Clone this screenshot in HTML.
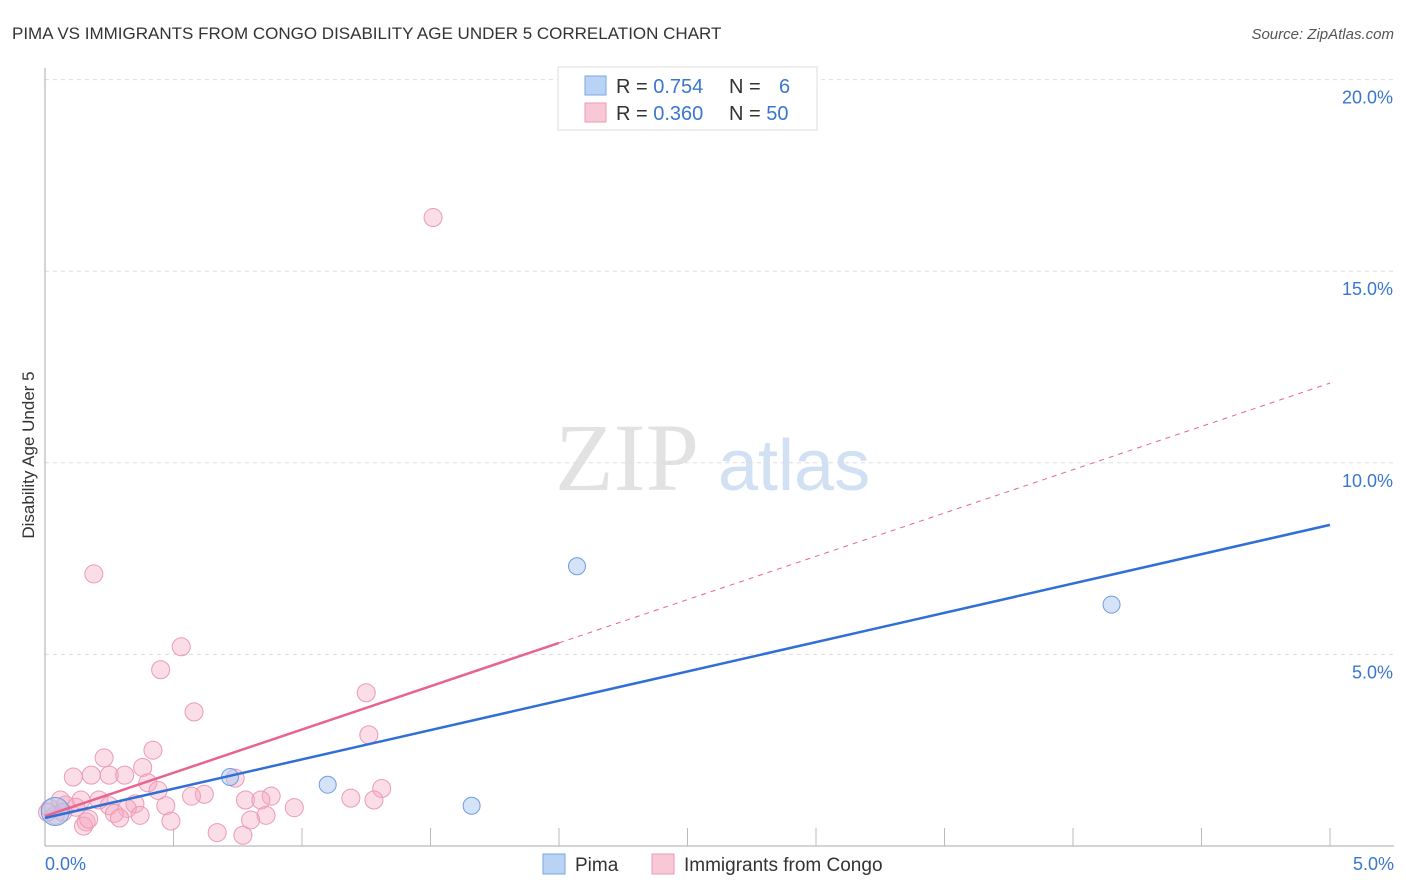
<!DOCTYPE html>
<html><head><meta charset="utf-8"><style>
body{margin:0;background:#fff;font-family:"Liberation Sans",sans-serif;}
#wrap{position:relative;width:1406px;height:892px;overflow:hidden;}
</style></head><body>
<div id="wrap">
<svg id="svg" width="1406" height="892" xmlns="http://www.w3.org/2000/svg">
<text x="12" y="39" font-size="17" fill="#333">PIMA VS IMMIGRANTS FROM CONGO DISABILITY AGE UNDER 5 CORRELATION CHART</text>
<text x="1394" y="39" font-size="15" fill="#555" font-style="italic" text-anchor="end">Source: ZipAtlas.com</text>
<text x="34" y="455" font-size="17" fill="#333" text-anchor="middle" transform="rotate(-90 34 455)">Disability Age Under 5</text>
<text x="555" y="490" font-size="96" fill="#e2e2e2" font-family="Liberation Serif,serif">ZIP</text>
<text x="718" y="490" font-size="72" fill="#d2e0f3">atlas</text>
<g id="grid"></g><g id="marks"></g>
<g>
<rect x="558" y="67" width="259" height="63" fill="#fff" stroke="#ddd"/>
<rect x="585" y="76" width="21" height="19" fill="#b9d3f5" stroke="#7aa6e6"/>
<rect x="585" y="103" width="21" height="19" fill="#f9c8d6" stroke="#ec9ab3"/>
<text x="616" y="93" font-size="20" fill="#333">R = <tspan fill="#3a76d0">0.754</tspan></text>
<text x="729" y="93" font-size="20" fill="#333">N = <tspan fill="#3a76d0" x="779">6</tspan></text>
<text x="616" y="120" font-size="20" fill="#333">R = <tspan fill="#3a76d0">0.360</tspan></text>
<text x="729" y="120" font-size="20" fill="#333">N = <tspan fill="#3a76d0">50</tspan></text>
</g>
<g>
<rect x="543" y="854" width="22" height="20" fill="#b9d3f5" stroke="#7aa6e6"/>
<text x="575" y="871" font-size="19" fill="#333">Pima</text>
<rect x="652" y="854" width="22" height="20" fill="#f9c8d6" stroke="#ec9ab3"/>
<text x="684" y="871" font-size="19" fill="#333">Immigrants from Congo</text>
</g>
</svg></div>
<script>
const yTicks=[5,10,15,20];
const yTickLabels=["5.0%","10.0%","15.0%","20.0%"];
const xTickLabels=["0.0%","5.0%"];
const pimaX=[2.07,4.15,1.10,1.66,0.72,0.04];
const pimaY=[7.3,6.3,1.6,1.05,1.8,0.9];
const congoX=[1.51,0.19,0.53,0.45,1.25,0.58,1.26,0.42,0.23,0.11,0.18,0.25,0.31,0.38,0.40,0.44,1.31,1.19,1.28,0.62,0.57,0.88,0.78,0.84,0.97,0.47,0.35,0.32,0.21,0.14,0.25,0.27,0.29,0.37,0.49,0.16,0.15,0.67,0.77,0.86,0.80,0.74,0.06,0.02,0.04,0.01,0.08,0.12,0.17,0.07];
const congoY=[16.4,7.1,5.2,4.6,4.0,3.5,2.9,2.5,2.3,1.8,1.85,1.85,1.85,2.05,1.65,1.45,1.5,1.25,1.2,1.35,1.3,1.3,1.2,1.2,1.0,1.05,1.1,0.98,1.2,1.2,1.05,0.85,0.73,0.8,0.65,0.63,0.52,0.35,0.28,0.8,0.68,1.77,1.2,0.98,0.8,0.88,1.07,1.01,0.7,0.88];
const pimaLine=[0.73,8.38];
const congoLine=[0.78,12.08];
const X=v=>45+v*257, Y=v=>846-v*38.32;
const NS="http://www.w3.org/2000/svg";
function mk(t,a,p){const e=document.createElementNS(NS,t);for(const k in a)e.setAttribute(k,a[k]);p.appendChild(e);return e;}
const g=document.getElementById('grid'),m=document.getElementById('marks');
yTicks.forEach((t,i)=>{
 const l=mk('line',{x1:45,x2:1394,y1:Y(t),y2:Y(t),stroke:'#ddd','stroke-dasharray':'4 4'},g);
 
 
 const tx=mk('text',{x:1393,y:Y(t)+24,'font-size':18,fill:'#3a76d0','text-anchor':'end'},g);tx.textContent=yTickLabels[i];
 
 
});
const ax=mk('line',{x1:45,x2:45,y1:68,y2:846,stroke:'#aaa'},g);


const bx=mk('line',{x1:45,x2:1394,y1:846,y2:846,stroke:'#aaa'},g);


for(let i=1;i<=10;i++){const t=mk('line',{x1:X(i*0.5),x2:X(i*0.5),y1:828,y2:846,stroke:'#bbb'},g);
 
 }
[[0,45,'start'],[5,1394,'end']].forEach((d,i)=>{const t=mk('text',{x:d[1],y:870,'font-size':18,fill:'#3a76d0','text-anchor':d[2]},g);t.textContent=xTickLabels[i];
 
 });
congoX.forEach((x,i)=>{const c=mk('circle',{cx:X(x),cy:Y(congoY[i]),r:9,fill:'rgba(246,170,195,0.4)',stroke:'#ec9ab3','stroke-width':1},m);
 
 });
pimaX.forEach((x,i)=>{const c=mk('circle',{cx:X(x),cy:Y(pimaY[i]),r:i==5?14:8.5,fill:'rgba(170,200,240,0.5)',stroke:'#6e9de0','stroke-width':1},m);
 
 });
const cy=x=>congoLine[0]+(congoLine[1]-congoLine[0])*x/5;
const l1=mk('line',{x1:X(0),y1:Y(cy(0)),x2:X(2),y2:Y(cy(2)),stroke:'#e8648f','stroke-width':2.5},m);


const l2=mk('line',{x1:X(2),y1:Y(cy(2)),x2:X(5),y2:Y(cy(5)),stroke:'#e8648f','stroke-width':1,'stroke-dasharray':'5 5'},m);


const l3=mk('line',{x1:X(0),y1:Y(pimaLine[0]),x2:X(5),y2:Y(pimaLine[1]),stroke:'#2f6fd6','stroke-width':2.5},m);


</script>
</body></html>
